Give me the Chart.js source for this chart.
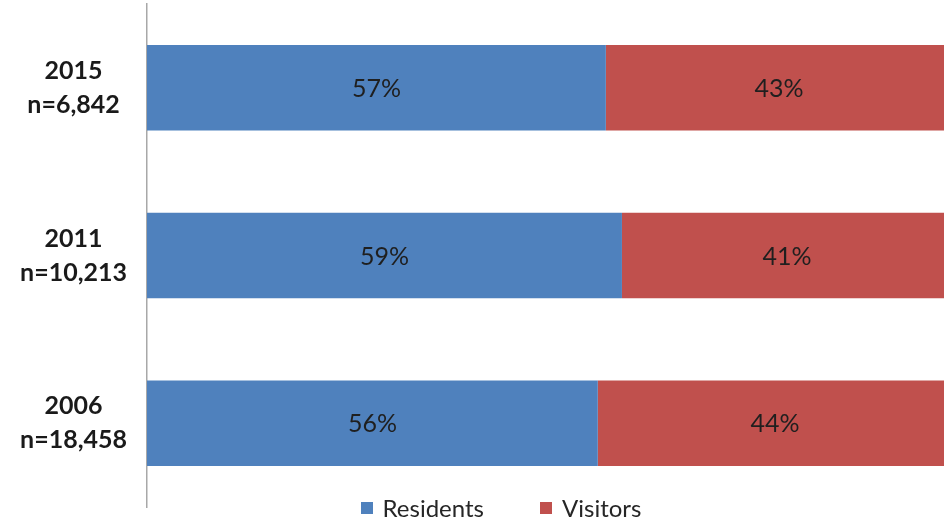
<!DOCTYPE html>
<html>
<head>
<meta charset="utf-8">
<script src="https://cdn.jsdelivr.net/npm/chart.js@4/dist/chart.umd.min.js"></script>
<style>
  html, body { margin: 0; padding: 0; background: #fff; overflow: hidden; }
  #wrap { position: relative; width: 960px; height: 523px; }
  #legend {
    position: absolute; left: 58px; top: 493px; width: 886px;
    display: flex; justify-content: center; gap: 56px;
    font: 24px Lato, sans-serif; color: #262626;
  }
  #legend span.item { display: flex; align-items: center; }
  #legend span.box { display: inline-block; width: 12px; height: 12px; margin-right: 10px; }
</style>
</head>
<body>
<div id="wrap">
  <canvas id="chart" width="960" height="523"></canvas>
  <div id="legend"></div>
</div>
<script>
// Survey years with sample sizes
const years = [['2015', 'n=6,842'], ['2011', 'n=10,213'], ['2006', 'n=18,458']];
const residents = [57, 59, 56];
const visitors = [43, 41, 44];

const seriesNames = ['Residents', 'Visitors'];
const seriesColors = ['#4f81bd', '#c0504d'];

// Percent labels centered inside each bar segment
const barLabels = {
    id: 'barLabels',
    afterDatasetsDraw(chart) {
        const ctx = chart.ctx;
        ctx.save();
        ctx.font = '25px Lato, sans-serif';
        ctx.fillStyle = '#1f1f1f';
        ctx.textAlign = 'center';
        ctx.textBaseline = 'middle';
        chart.data.datasets.forEach((ds, i) => {
            chart.getDatasetMeta(i).data.forEach((bar, j) => {
                const p = bar.getProps(['x', 'base', 'y'], true);
                ctx.fillText(ds.data[j] + '%', (p.x + p.base) / 2, p.y + 1);
            });
        });
        ctx.restore();
    }
};

const chart = new Chart(document.getElementById('chart'), {
    type: 'bar',
    data: {
        labels: years,
        datasets: [
            { label: seriesNames[0], data: residents, backgroundColor: seriesColors[0] },
            { label: seriesNames[1], data: visitors, backgroundColor: seriesColors[1] }
        ]
    },
    options: {
        indexAxis: 'y',
        responsive: false,
        animation: false,
        categoryPercentage: 1,
        barPercentage: 0.51,
        layout: { padding: { top: 4, bottom: 16, right: 8 } },
        plugins: {
            legend: { display: false },
            tooltip: { enabled: false }
        },
        scales: {
            x: {
                stacked: true,
                min: 0,
                max: 100,
                display: false
            },
            y: {
                stacked: true,
                afterFit: s => {
                    s.width = 147;
                    s.paddingTop = 0;
                    s.paddingBottom = 0;
                },
                grid: { display: false, drawTicks: false },
                border: { color: '#a8a8a8', width: 1.5 },
                ticks: {
                    color: '#1a1a1a',
                    padding: 20,
                    crossAlign: 'center',
                    font: { family: 'Lato, sans-serif', size: 25, weight: 'bold', lineHeight: 1.36 }
                }
            }
        }
    },
    plugins: [barLabels]
});

// Legend built from the chart's own legend items
const legendEl = document.getElementById('legend');
chart.options.plugins.legend.labels.generateLabels(chart).forEach(item => {
    const el = document.createElement('span');
    el.className = 'item';
    el.innerHTML = '<span class="box" style="background:' + item.fillStyle + '"></span>' + item.text;
    legendEl.appendChild(el);
});
</script>
</body>
</html>
